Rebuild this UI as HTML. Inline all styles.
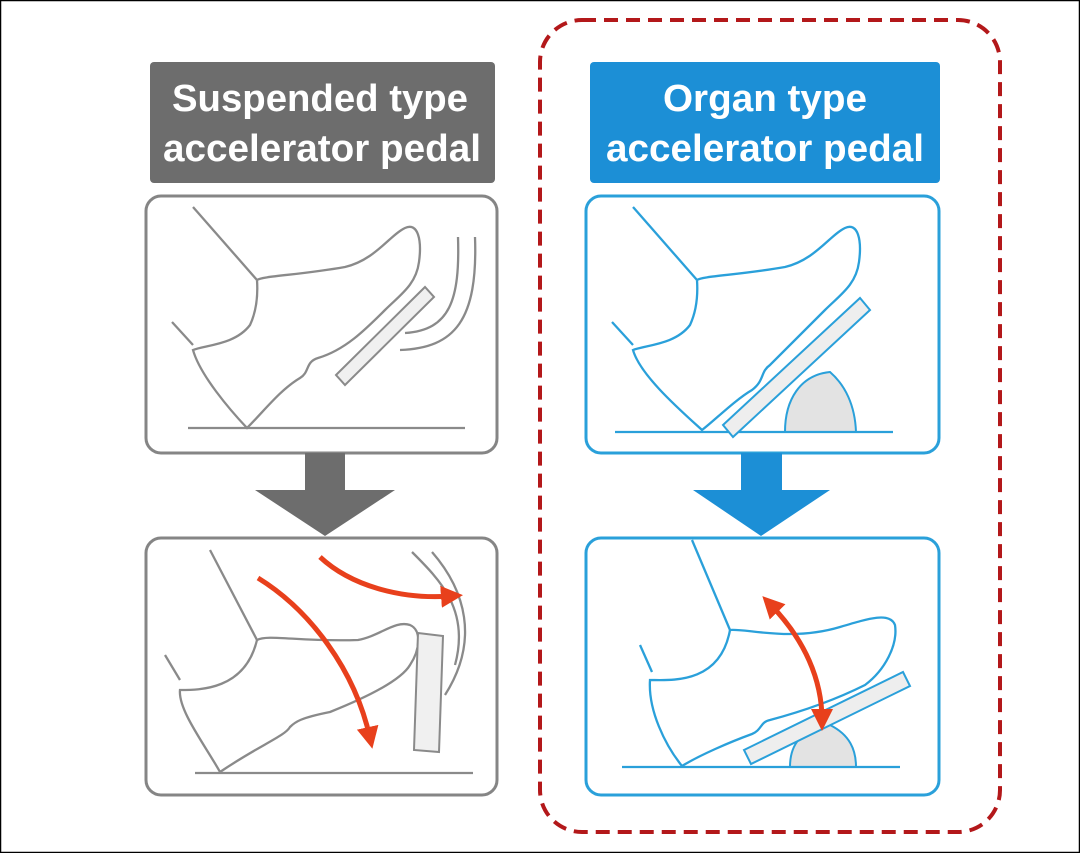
<!DOCTYPE html>
<html><head><meta charset="utf-8"><style>
html,body{margin:0;padding:0;background:#fff}
svg{display:block}
text{font-family:"Liberation Sans",sans-serif;font-weight:bold;fill:#fff}
</style></head><body>
<svg width="1080" height="853" viewBox="0 0 1080 853" xmlns="http://www.w3.org/2000/svg">
<defs>
<marker id="ah" viewBox="0 0 10 10" refX="5" refY="5" markerWidth="4.4" markerHeight="4.4" orient="auto-start-reverse"><path d="M0,0 L10,5 L0,10 Z" fill="#e8401c"/></marker>
</defs>
<rect x="0.5" y="0.5" width="1079" height="852" fill="#fff" stroke="#000" stroke-width="1.5"/>
<rect x="540" y="20" width="460" height="812" rx="42" fill="none" stroke="#b3181a" stroke-width="4" stroke-dasharray="14,8"/>

<!-- headers -->
<rect x="150" y="62" width="345" height="121" rx="4" fill="#6d6d6d"/>
<text x="320" y="111" font-size="38" text-anchor="middle" textLength="296" lengthAdjust="spacingAndGlyphs">Suspended type</text>
<text x="322" y="161" font-size="38" text-anchor="middle" textLength="318" lengthAdjust="spacingAndGlyphs">accelerator pedal</text>
<rect x="590" y="62" width="350" height="121" rx="4" fill="#1c8fd6"/>
<text x="765" y="111" font-size="38" text-anchor="middle" textLength="204" lengthAdjust="spacingAndGlyphs">Organ type</text>
<text x="765" y="161" font-size="38" text-anchor="middle" textLength="318" lengthAdjust="spacingAndGlyphs">accelerator pedal</text>

<!-- panels -->
<g fill="none" stroke-width="3">
<rect x="146" y="196" width="351" height="257" rx="15" stroke="#858585"/>
<rect x="146" y="538" width="351" height="257" rx="15" stroke="#858585"/>
<rect x="586" y="196" width="353" height="257" rx="15" stroke="#2aa0da"/>
<rect x="586" y="538" width="353" height="257" rx="15" stroke="#2aa0da"/>
</g>

<!-- arrows -->
<path d="M305,453 H345 V490 H395 L325,536 L255,490 H305 Z" fill="#6d6d6d"/>
<path d="M741,453 H782 V490 H830 L761,536 L693,490 H741 Z" fill="#1c8fd6"/>

<!-- top-left foot -->
<g fill="none" stroke="#8a8a8a" stroke-width="2.3">
<path d="M188,428 H465"/>
<path d="M193,207 L257,280"/>
<path d="M172,322 L193,345"/>
<path d="M257,280 C262,276 300,275 345,267 C375,260 390,235 405,228 C418,222 422,240 419,262 C416,285 400,295 385,310 C365,330 345,350 318,358 C305,362 310,372 300,378 C280,390 265,410 247,428 C230,410 200,375 193,350 C205,345 235,345 250,325 C257,310 258,295 257,280"/>
<path d="M458,237 C460,300 450,330 405,333"/>
<path d="M475,237 C478,320 455,348 400,350"/>
</g>
<path d="M336,375 L425,287 L434,297 L345,385 Z" fill="#f0f0f0" stroke="#8a8a8a" stroke-width="2"/>

<!-- bottom-left foot -->
<g fill="none" stroke="#8a8a8a" stroke-width="2.3">
<path d="M195,773 H473"/>
<path d="M210,550 L257,640"/>
<path d="M165,655 L180,680"/>
<path d="M257,640 C268,634 300,642 358,640 C380,636 395,620 410,625 C422,630 420,650 410,665 C400,682 360,700 330,712 C300,718 295,722 290,727 C285,736 260,745 220,772 C205,745 178,710 180,690 C200,690 245,690 257,640"/>
<path d="M412,552 C440,580 470,610 455,665"/>
<path d="M432,552 C465,590 480,640 445,695"/>
</g>
<path d="M418,633 L443,636 L439,752 L414,750 Z" fill="#f0f0f0" stroke="#8a8a8a" stroke-width="2"/>
<g fill="none" stroke="#e8401c" stroke-width="5">
<path d="M258,578 C310,610 355,670 370,738" marker-end="url(#ah)"/>
<path d="M320,557 C350,585 400,600 452,596" marker-end="url(#ah)"/>
</g>

<!-- top-right foot -->
<path d="M785,432 C785,400 800,375 830,372 C845,385 855,405 856,432 Z" fill="#e3e3e3" stroke="#2aa0da" stroke-width="2"/>
<g fill="none" stroke="#2aa0da" stroke-width="2.3">
<path d="M615,432 H893"/>
<path d="M633,207 L697,280"/>
<path d="M612,322 L633,345"/>
<path d="M697,280 C702,276 740,275 785,267 C815,260 830,235 845,228 C858,222 862,240 859,262 C856,285 840,295 825,310 C805,330 785,350 770,365 C760,372 765,380 752,390 C735,400 715,420 702,430 C680,410 640,375 633,350 C645,345 675,345 690,325 C697,310 698,295 697,280"/>
</g>
<path d="M723,425 L860,298 L870,310 L733,437 Z" fill="#eeeeee" stroke="#2aa0da" stroke-width="2"/>

<!-- bottom-right foot -->
<path d="M790,767 C790,745 800,730 830,725 C850,735 856,750 856,767 Z" fill="#e3e3e3" stroke="#2aa0da" stroke-width="2"/>
<g fill="none" stroke="#2aa0da" stroke-width="2.3">
<path d="M622,767 H900"/>
<path d="M692,540 L730,630"/>
<path d="M640,645 L652,672"/>
<path d="M730,630 C745,628 790,642 840,627 C870,618 890,612 895,625 C898,645 885,670 865,685 C835,700 800,712 770,720 C760,722 762,730 752,734 C730,742 700,755 682,766 C665,745 648,710 650,680 C670,680 720,685 730,630"/>
</g>
<path d="M744,750 L903,672 L910,686 L751,764 Z" fill="#eeeeee" stroke="#2aa0da" stroke-width="2"/>
<path d="M770,604 C805,640 822,680 822,720" fill="none" stroke="#e8401c" stroke-width="5" marker-start="url(#ah)" marker-end="url(#ah)"/>
</svg>
</body></html>
